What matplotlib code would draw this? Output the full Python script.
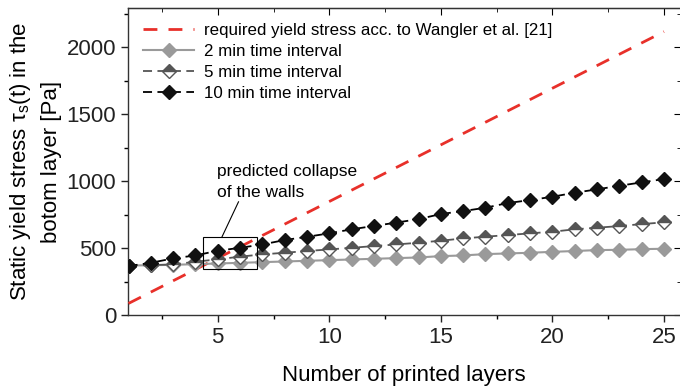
import matplotlib
matplotlib.use("Agg")
import matplotlib.pyplot as plt
from matplotlib.patches import Rectangle
from matplotlib.ticker import MultipleLocator

plt.rcParams['font.family'] = ['Liberation Sans', 'DejaVu Sans']
plt.rcParams['mathtext.fontset'] = 'custom'
plt.rcParams['mathtext.rm'] = 'Liberation Sans'

# data
layers = list(range(1, 26))
req_x = [1, 25]
req_y = [87, 2115]
t2 = [370, 372, 375, 380, 385, 390, 395, 400, 405, 410, 415, 420, 425,
      430, 440, 445, 455, 460, 465, 472, 478, 485, 487, 492, 495]
t5 = [370, 373, 378, 398, 416, 436, 453, 465, 478, 490, 502, 515, 527,
      540, 555, 572, 585, 597, 610, 622, 640, 652, 664, 679, 692]
t10 = [366, 390, 423, 445, 480, 502, 527, 560, 584, 610, 640, 665, 690,
       716, 754, 776, 801, 836, 858, 883, 913, 938, 965, 990, 1015]

fig = plt.figure(figsize=(6.8, 3.89), dpi=100)
ax = fig.add_axes([0.188, 0.19, 0.813, 0.789])

ax.plot(req_x, req_y, color='#e8302a', lw=2, dashes=(5, 4),
        label='required yield stress acc. to Wangler et al. [21]', zorder=3)
ax.plot(layers, t2, color='#9a9a9a', lw=1.5, marker='D', ms=7,
        mfc='#9a9a9a', mec='#9a9a9a', label='2 min time interval', zorder=4)
ax.plot(layers, t5, color='#555555', lw=1.3, dashes=(5, 3), marker='D', ms=7,
        fillstyle='top', mfc='#555555', mfcalt='white', mec='#555555',
        label='5 min time interval', zorder=5)
ax.plot(layers, t10, color='black', lw=1.3, dashes=(5, 3), marker='D', ms=7,
        mfc='#111111', mec='#111111', label='10 min time interval', zorder=6)

# box + note
ax.add_patch(Rectangle((4.33, 341), 6.75 - 4.33, 580 - 341, fill=False,
                       ec='black', lw=0.8, zorder=7))
ax.plot([5.93, 5.18], [845, 580], color='black', lw=0.8, zorder=7)
ax.text(4.95, 860, 'predicted collapse\nof the walls', fontsize=12.5,
        va='bottom', ha='left', linespacing=1.45)

ax.set_xlim(0.97, 25.75)
ax.set_ylim(0, 2290)
ax.xaxis.set_major_locator(MultipleLocator(5))
ax.xaxis.set_minor_locator(MultipleLocator(2.5))
ax.yaxis.set_major_locator(MultipleLocator(500))
ax.yaxis.set_minor_locator(MultipleLocator(250))
ax.tick_params(which='major', direction='out', length=5, width=1,
               labelsize=16, colors='#222222')
ax.tick_params(which='minor', direction='out', length=3, width=1)
for s in ax.spines.values():
    s.set_linewidth(1)
    s.set_color('#333333')

top = ax.secondary_xaxis('top')
top.xaxis.set_major_locator(MultipleLocator(5))
top.xaxis.set_minor_locator(MultipleLocator(2.5))
top.tick_params(which='both', direction='in', labeltop=False)
top.tick_params(which='major', length=5)
top.tick_params(which='minor', length=3)
right = ax.secondary_yaxis('right')
right.yaxis.set_major_locator(MultipleLocator(500))
right.yaxis.set_minor_locator(MultipleLocator(250))
right.tick_params(which='both', direction='in', labelright=False)
right.tick_params(which='major', length=5)
right.tick_params(which='minor', length=3)

ax.set_xlabel('Number of printed layers', fontsize=16, labelpad=12)
ax.set_ylabel('Static yield stress τ$_\\mathrm{s}$(t) in the\nbotom layer [Pa]',
              fontsize=16, labelpad=3, linespacing=1.5)

ax.legend(loc='upper left', frameon=False, fontsize=12.2, handlelength=3,
          labelspacing=0.35, borderaxespad=0.5, handletextpad=0.6)

fig.savefig('out.png', dpi=100)
